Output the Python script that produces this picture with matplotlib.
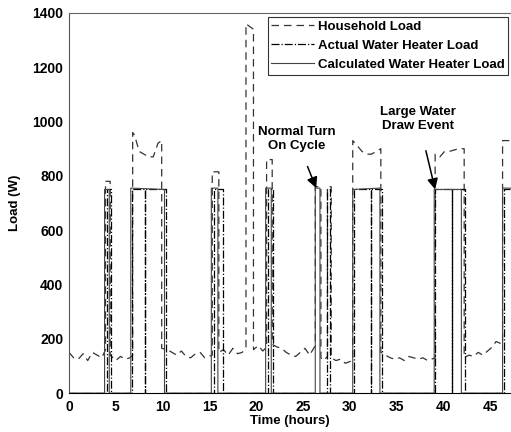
import numpy as np
import matplotlib.pyplot as plt

plt.rcParams['font.family'] = ['Liberation Sans', 'DejaVu Sans']
plt.rcParams['font.weight'] = 'bold'
plt.rcParams['axes.labelweight'] = 'bold'
plt.rcParams['font.size'] = 9

# household load (W)
house_t = [0, 0.5, 1, 1.5, 2, 2.5, 3, 3.5, 3.9,
           3.9, 4.4,
           4.4, 5, 5.5, 6, 6.5, 6.8,
           6.8, 7.0, 7.5, 8.0, 8.5, 9.0, 9.5, 9.9,
           9.9, 10.5, 11, 11.5, 12, 12.5, 13, 13.5, 14, 14.5, 15.3,
           15.3, 16.0,
           16.0, 16.5, 17, 17.5, 18, 18.5, 18.9,
           18.9, 19.7,
           19.7, 20.2, 20.7, 21.1,
           21.1, 21.7,
           21.7, 22.2, 22.7, 23.2, 23.7, 24.2, 24.7, 25.2, 25.7, 26.3,
           26.3, 26.9,
           26.9, 27.2, 27.6,
           27.6, 28.0,
           28.0, 28.5, 29, 29.5, 30.3,
           30.3, 30.8, 31.3, 31.8, 32.3, 32.8, 33.3,
           33.3, 33.8, 34.3, 34.8, 35.3, 35.8, 36.3, 36.8, 37.3, 37.8, 38.3, 39.1,
           39.1, 39.6, 40.1, 40.6, 41.1, 41.6, 42.2,
           42.2, 42.7, 43.2, 43.7, 44.2, 44.7, 45.2, 45.6, 46.3,
           46.3, 47.2]
house_w = [150, 130, 125, 145, 120, 150, 140, 130, 160,
           780, 780,
           140, 120, 135, 125, 130, 140,
           960, 950, 890, 880, 870, 870, 920, 930,
           165, 160, 150, 140, 155, 135, 130, 145, 150, 130, 140,
           815, 815,
           150, 160, 140, 165, 145, 150, 170,
           1360, 1340,
           160, 175, 155, 170,
           860, 860,
           180, 170, 165, 150, 140, 135, 150, 165, 140, 175,
           760, 760,
           130, 120, 135,
           760, 760,
           130, 120, 125, 110, 120,
           930, 910, 890, 880, 880, 890, 900,
           150, 140, 130, 125, 130, 120, 135, 130, 125, 130, 120, 130,
           880, 870, 890, 890, 895, 900, 900,
           130, 140, 135, 150, 140, 155, 170, 190, 180,
           930, 930]

# actual water heater load (W)
act_t = [0, 4.05, 4.05, 4.5, 4.5, 6.7, 6.7, 8.1, 8.1, 8.15, 8.15, 10.4, 10.4,
         15.5, 15.5, 16.4, 16.4, 21.3, 21.3, 21.8, 21.8, 27.5, 27.5, 27.9, 27.9,
         30.4, 30.4, 32.2, 32.2, 32.25, 32.25, 33.4, 33.4,
         39.1, 39.1, 40.9, 40.9, 40.95, 40.95, 42.3, 42.3, 46.5, 46.5, 47.2]
act_w = [0, 0, 750, 750, 0, 0, 750, 750, 0, 0, 750, 750, 0,
         0, 750, 750, 0, 0, 750, 750, 0, 0, 750, 750, 0,
         0, 750, 750, 0, 0, 750, 750, 0,
         0, 750, 750, 0, 0, 750, 750, 0, 0, 750, 750]

# calculated water heater load (W)
calc_t = [0, 3.8, 3.8, 4.3, 4.3, 6.6, 6.6, 10.2, 10.2, 15.2, 15.2, 15.9, 15.9,
          21.0, 21.0, 21.6, 21.6, 26.3, 26.3, 26.8, 26.8, 30.3, 30.3, 33.2, 33.2,
          39.0, 39.0, 41.9, 41.9, 46.3, 46.3, 47.2]
calc_w = [0, 0, 750, 750, 0, 0, 755, 750, 0, 0, 755, 755, 0,
          0, 755, 755, 0, 0, 755, 755, 0, 0, 750, 755, 0,
          0, 750, 750, 0, 0, 755, 755]

fig = plt.figure(figsize=(5.11, 4.32), dpi=100)
ax = fig.add_axes([0.135, 0.09, 0.865, 0.88])

ax.plot(house_t, house_w, '--', color='#333333', lw=0.9, dashes=(6, 4), label='Household Load')
ax.plot(act_t, act_w, '-.', color='black', lw=0.9, label='Actual Water Heater Load')
ax.plot(calc_t, calc_w, '-', color='#444444', lw=0.8, label='Calculated Water Heater Load')

ax.set_xlim(0, 47.2)
ax.set_ylim(0, 1400)
ax.set_xticks(np.arange(0, 46, 5))
ax.set_yticks(np.arange(0, 1401, 200))
ax.tick_params(axis='x', direction='in', length=0, pad=5, labelsize=10)
ax.tick_params(axis='y', direction='in', length=0, pad=4, labelsize=10)
for lab in ax.get_xticklabels() + ax.get_yticklabels():
    lab.set_fontweight('bold')
ax.spines['right'].set_visible(False)
ax.spines['top'].set_color('#666666')
ax.spines['left'].set_color('#555555')
ax.set_xlabel('Time (hours)', labelpad=1, fontweight='bold', fontsize=9.5)
ax.set_ylabel('Load (W)', labelpad=8, fontweight='bold', fontsize=9.5)

leg = ax.legend(loc='upper right', bbox_to_anchor=(1.0, 0.997), frameon=True, fancybox=False,
                handlelength=3.2, handletextpad=0.3, borderpad=0.3, labelspacing=0.5,
                borderaxespad=0.2, prop={'weight': 'bold', 'size': 9.5})
leg.get_frame().set_edgecolor('black')
leg.get_frame().set_linewidth(0.8)

ax.annotate('Normal Turn\nOn Cycle', xy=(26.4, 755), xytext=(24.3, 935),
            ha='center', va='center', linespacing=1.2, fontweight='bold', fontsize=9.5,
            arrowprops=dict(arrowstyle='-|>', color='black', lw=1.1, shrinkA=9, shrinkB=0,
                            mutation_scale=16))
ax.annotate('Large Water\nDraw Event', xy=(39.1, 750), xytext=(37.3, 1010),
            ha='center', va='center', linespacing=1.2, fontweight='bold', fontsize=9.5,
            arrowprops=dict(arrowstyle='-|>', color='black', lw=1.1, shrinkA=12, shrinkB=0,
                            mutation_scale=16))

fig.savefig('out.png', dpi=100)
